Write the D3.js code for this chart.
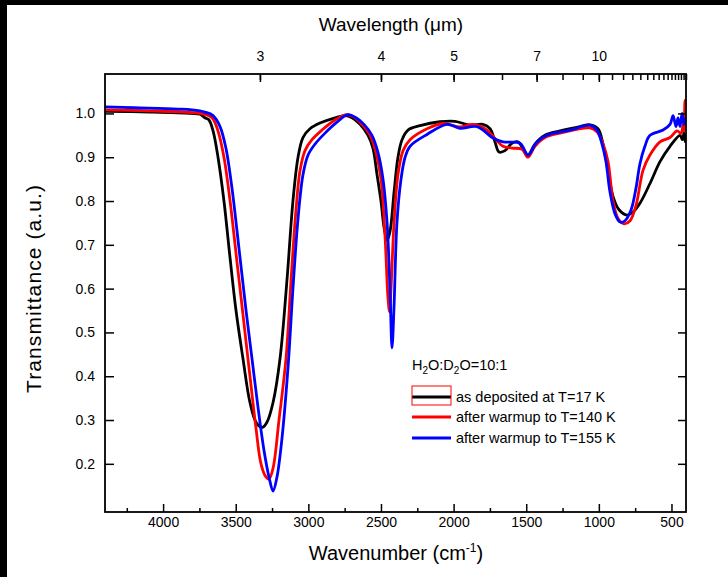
<!DOCTYPE html>
<html><head><meta charset="utf-8">
<script src="https://cdn.jsdelivr.net/npm/d3@7/dist/d3.min.js"></script>
<style>
html,body{margin:0;padding:0;background:#fff;}
svg{display:block;font-family:"Liberation Sans",Arial,sans-serif;}
</style></head>
<body>
<svg id="chart" width="728" height="577"></svg>
<script>
// ---- data ----
const blackWN = [4400,4090,3815,3746,3712,3684,3656,3622,3581,3539,3498,3450,3402,3360,3319,3285,3243,3195,3147,3106,3071,3037,2989,2920,2816,2748,2699,2644,2589,2555,2527,2500,2479,2458,2438,2410,2383,2355,2314,2231,2094,1990,1887,1798,1749,1715,1687,1646,1598,1557,1522,1488,1440,1371,1267,1130,1061,1006,971,937,902,861,806,765,717,648,579,510,441,425,414,405,400];
const blackT  = [1.005,1.003,1.0,0.998,0.99,0.985,0.96,0.90,0.80,0.67,0.55,0.44,0.34,0.295,0.283,0.295,0.34,0.44,0.62,0.80,0.90,0.945,0.965,0.978,0.99,0.995,0.99,0.975,0.95,0.92,0.86,0.80,0.74,0.71,0.73,0.82,0.90,0.94,0.962,0.972,0.981,0.982,0.973,0.975,0.965,0.935,0.912,0.915,0.932,0.935,0.92,0.905,0.93,0.95,0.96,0.97,0.974,0.965,0.93,0.87,0.81,0.78,0.768,0.775,0.795,0.84,0.89,0.925,0.95,0.94,0.955,0.935,0.95];

const redWN = [4400,4100,3800,3712,3663,3622,3581,3539,3491,3443,3402,3360,3326,3292,3271,3243,3202,3154,3119,3085,3057,3023,2975,2906,2816,2734,2679,2631,2575,2534,2500,2472,2452,2441,2431,2410,2383,2348,2300,2183,2073,1956,1866,1770,1708,1660,1598,1529,1488,1440,1371,1267,1061,1013,971,937,902,868,827,785,744,696,648,579,510,462,434,420,414,407,400];
const redT  = [1.008,1.006,1.002,0.998,0.99,0.96,0.90,0.80,0.66,0.52,0.40,0.28,0.20,0.17,0.165,0.19,0.30,0.44,0.62,0.78,0.87,0.915,0.94,0.962,0.985,0.997,0.99,0.975,0.95,0.91,0.85,0.72,0.58,0.547,0.60,0.75,0.86,0.915,0.94,0.965,0.977,0.969,0.975,0.962,0.94,0.925,0.921,0.918,0.90,0.925,0.945,0.955,0.967,0.958,0.93,0.89,0.80,0.76,0.748,0.755,0.79,0.87,0.905,0.935,0.945,0.96,0.955,0.975,0.96,1.03,0.96];

const blueWN = [4400,4200,3900,3800,3712,3656,3608,3567,3526,3477,3429,3388,3347,3305,3271,3243,3216,3181,3140,3106,3071,3037,3002,2954,2885,2803,2727,2672,2617,2562,2520,2486,2458,2438,2424,2410,2390,2362,2334,2300,2183,2045,1956,1839,1729,1660,1543,1488,1426,1357,1199,1061,1013,978,951,923,888,854,820,778,744,717,683,648,558,510,489,469,455,441,427,414,400];
const blueT  = [1.015,1.013,1.01,1.008,1.003,0.995,0.97,0.92,0.83,0.69,0.55,0.44,0.33,0.23,0.17,0.138,0.17,0.26,0.42,0.60,0.76,0.86,0.905,0.93,0.955,0.98,0.997,0.99,0.975,0.95,0.91,0.85,0.75,0.60,0.465,0.56,0.75,0.85,0.90,0.925,0.952,0.975,0.966,0.97,0.944,0.935,0.932,0.905,0.935,0.95,0.962,0.973,0.962,0.93,0.89,0.82,0.77,0.752,0.755,0.78,0.83,0.885,0.925,0.95,0.962,0.975,0.995,0.97,0.99,0.97,1.0,0.975,0.99];

const seriesNames = ["as deposited at T=17 K","after warmup to T=140 K","after warmup to T=155 K"];
const seriesColors = ["#000000","#ff0000","#0000ff"];
const xMajorTicks = [4000,3500,3000,2500,2000,1500,1000,500];
const xMinorTicks = [4250,3750,3250,2750,2250,1750,1250,750];
const yTicks = [0.2,0.3,0.4,0.5,0.6,0.7,0.8,0.9,1.0];
const topLabels = [3,4,5,7,10];
const topTicks = [3,4,5,6,7,8,9,10,11,12,13,14,15,16,17,18,19,20,21,22,23,24,25];

// ---- layout ----
const svg = d3.select("#chart");
const L = 105, R = 686, T = 74, B = 512;
const x = d3.scaleLinear().domain([4400,400]).range([L,R]);
const y = d3.scaleLinear().domain([0.09,1.09]).range([B,T]);

// black border strips (image frame)
svg.append("rect").attr("x",0).attr("y",0).attr("width",728).attr("height",5).attr("fill","#000");
svg.append("rect").attr("x",0).attr("y",0).attr("width",7).attr("height",577).attr("fill","#000");

svg.append("defs").append("clipPath").attr("id","clip")
  .append("rect").attr("x",L).attr("y",T).attr("width",R-L).attr("height",B-T);

const series = [
  blackWN.map((w,i)=>[w,blackT[i]]),
  redWN.map((w,i)=>[w,redT[i]]),
  blueWN.map((w,i)=>[w,blueT[i]])
];
const line = d3.line().x(d=>x(d[0])).y(d=>y(d[1])).curve(d3.curveCatmullRom.alpha(0.5));
const g = svg.append("g").attr("clip-path","url(#clip)");
series.forEach((s,i)=>{
  g.append("path").attr("d",line(s)).attr("fill","none")
    .attr("stroke",seriesColors[i]).attr("stroke-width",2.8).attr("stroke-linejoin","round");
});

// axes
const fs = 14;
svg.append("g").attr("transform",`translate(0,${B})`)
  .call(d3.axisBottom(x).tickValues(xMajorTicks).tickSize(-8).tickPadding(5).tickFormat(d3.format("d")));
svg.append("g").attr("transform",`translate(0,${B})`)
  .call(d3.axisBottom(x).tickValues(xMinorTicks).tickSize(-4).tickFormat(""));
svg.append("g").attr("transform",`translate(${L},0)`)
  .call(d3.axisLeft(y).tickValues(yTicks).tickSize(-9).tickPadding(10).tickFormat(d3.format(".1f")));
svg.append("g").attr("transform",`translate(${R},0)`)
  .call(d3.axisRight(y).tickValues(yTicks).tickSize(-8).tickFormat(""));
svg.append("g").attr("transform",`translate(0,${T})`)
  .call(d3.axisTop(x).tickValues(topTicks.map(v=>10000/v)).tickSize(-6).tickFormat(""));
svg.append("g").attr("transform",`translate(0,${T})`)
  .call(d3.axisTop(x).tickValues(topLabels.map(v=>10000/v)).tickSize(-8).tickPadding(13).tickFormat(d=>Math.round(10000/d)));

svg.selectAll(".domain").attr("stroke","none");
svg.selectAll(".tick line").attr("stroke","#000").attr("stroke-width",1.5);
svg.selectAll(".tick text").attr("font-size",fs).attr("font-family","Liberation Sans, Arial, sans-serif").attr("fill","#000");

svg.append("rect").attr("x",L).attr("y",T).attr("width",R-L).attr("height",B-T)
  .attr("fill","none").attr("stroke","#000").attr("stroke-width",1.8);

// titles
svg.append("text").attr("x",391).attr("y",26).attr("text-anchor","middle").attr("dominant-baseline","middle")
  .attr("font-size",19).text("Wavelength (μm)");
const xt = svg.append("text").attr("x",396).attr("y",560).attr("text-anchor","middle")
  .attr("font-size",20);
xt.append("tspan").text("Wavenumber (cm");
xt.append("tspan").attr("dy",-8).attr("font-size",12).text("-1");
xt.append("tspan").attr("dy",8).text(")");
svg.append("text").attr("transform","translate(41,289) rotate(-90)").attr("text-anchor","middle")
  .attr("font-size",21).attr("textLength",208).attr("lengthAdjust","spacing").text("Transmittance (a.u.)");

// legend
const lt = svg.append("text").attr("x",412).attr("y",370).attr("font-size",14.5);
lt.append("tspan").text("H");
lt.append("tspan").attr("dy",4).attr("font-size",10).text("2");
lt.append("tspan").attr("dy",-4).text("O:D");
lt.append("tspan").attr("dy",4).attr("font-size",10).text("2");
lt.append("tspan").attr("dy",-4).text("O=10:1");
const legY = [397,417,438];
seriesNames.forEach((n,i)=>{
  svg.append("line").attr("x1",412).attr("x2",451).attr("y1",legY[i]).attr("y2",legY[i])
    .attr("stroke",seriesColors[i]).attr("stroke-width",2.8);
  svg.append("text").attr("x",456).attr("y",legY[i]).attr("dy","0.35em").attr("font-size",14.5).text(n);
});
svg.append("rect").attr("x",412).attr("y",386).attr("width",39).attr("height",19)
  .attr("fill","none").attr("stroke","#ff0000").attr("stroke-width",1);
</script>
</body></html>
